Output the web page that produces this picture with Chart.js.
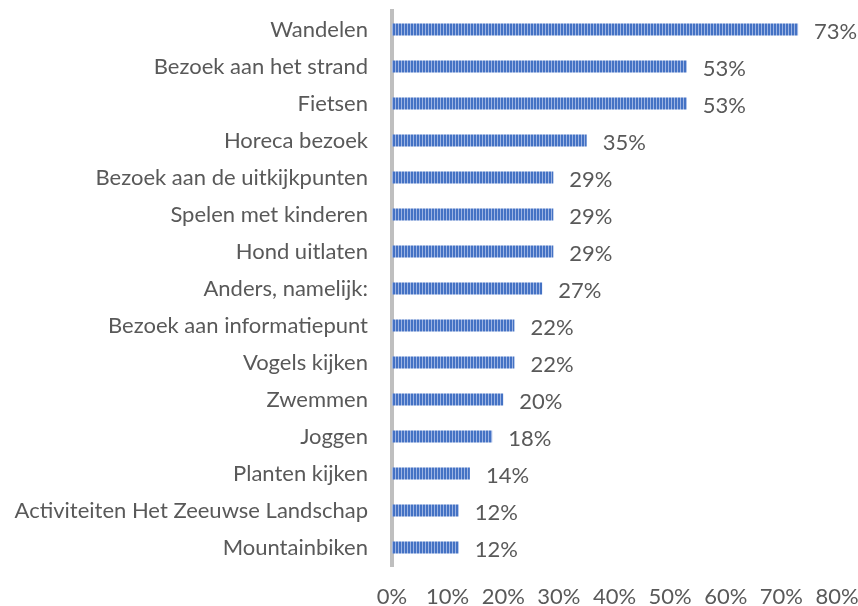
<!DOCTYPE html>
<html>
<head>
<meta charset="utf-8">
<script src="https://cdn.jsdelivr.net/npm/chart.js@4"></script>
<style>
  html, body { margin: 0; padding: 0; background: #ffffff; }
  #wrap { width: 858px; height: 606px; position: relative; }
</style>
</head>
<body>
<div id="wrap"><canvas id="c" width="858" height="606"></canvas></div>
<script>
const categories = [
  "Wandelen",
  "Bezoek aan het strand",
  "Fietsen",
  "Horeca bezoek",
  "Bezoek aan de uitkijkpunten",
  "Spelen met kinderen",
  "Hond uitlaten",
  "Anders, namelijk:",
  "Bezoek aan informatiepunt",
  "Vogels kijken",
  "Zwemmen",
  "Joggen",
  "Planten kijken",
  "Activiteiten Het Zeeuwse Landschap",
  "Mountainbiken"
];
const values = [73, 53, 53, 35, 29, 29, 29, 27, 22, 22, 20, 18, 14, 12, 12];
const xTicks = [0, 10, 20, 30, 40, 50, 60, 70, 80];

const FONT = "Lato, 'Liberation Sans', sans-serif";
const FSIZE = 22;
const TXT = "#595959";

function makePattern(ctx) {
  const pc = document.createElement('canvas');
  pc.width = 3; pc.height = 4;
  const p = pc.getContext('2d');
  p.fillStyle = '#4472C4';
  p.fillRect(0, 0, 3, 4);
  p.fillStyle = '#9DB4E3';
  p.fillRect(2, 0, 1, 4);
  return ctx.createPattern(pc, 'repeat');
}

function zeroPad(axis) {
  axis.paddingLeft = 0; axis.paddingRight = 0;
  axis.paddingTop = 0; axis.paddingBottom = 0;
}

const labelPlugin = {
  id: 'valueLabels',
  afterDatasetsDraw(chart) {
    const ctx = chart.ctx;
    const meta = chart.getDatasetMeta(0);
    ctx.save();
    ctx.font = FSIZE + "px " + FONT;
    ctx.fillStyle = TXT;
    ctx.textAlign = 'left';
    ctx.textBaseline = 'middle';
    meta.data.forEach((bar, i) => {
      ctx.fillText(values[i] + '%', bar.x + 16, bar.y + 2);
    });
    ctx.restore();
  }
};

const ctx = document.getElementById('c').getContext('2d');
new Chart(ctx, {
  type: 'bar',
  data: {
    labels: categories,
    datasets: [{
      data: values,
      backgroundColor: makePattern(ctx),
      borderWidth: 0,
      categoryPercentage: 1,
      barPercentage: 0.33
    }]
  },
  options: {
    indexAxis: 'y',
    responsive: false,
    animation: false,
    events: [],
    layout: { padding: { top: 11, right: 21, left: 0, bottom: 0 } },
    plugins: {
      legend: { display: false },
      tooltip: { enabled: false }
    },
    scales: {
      x: {
        min: 0,
        max: 80,
        afterBuildTicks(axis) { axis.ticks = xTicks.map(v => ({ value: v })); },
        afterFit(axis) { axis.height = 40; zeroPad(axis); },
        grid: { display: false, drawTicks: false },
        border: { display: false },
        ticks: {
          padding: 18,
          color: TXT,
          font: { family: FONT, size: FSIZE },
          callback: (v) => v + '%',
          maxRotation: 0,
          autoSkip: false
        }
      },
      y: {
        afterFit(axis) { axis.width = 392; zeroPad(axis); },
        grid: { display: false, drawTicks: false },
        border: { display: true, color: '#BFBFBF', width: 4 },
        ticks: {
          padding: 24,
          color: TXT,
          font: { family: FONT, size: FSIZE },
          autoSkip: false
        }
      }
    }
  },
  plugins: [labelPlugin]
});
</script>
</body>
</html>
